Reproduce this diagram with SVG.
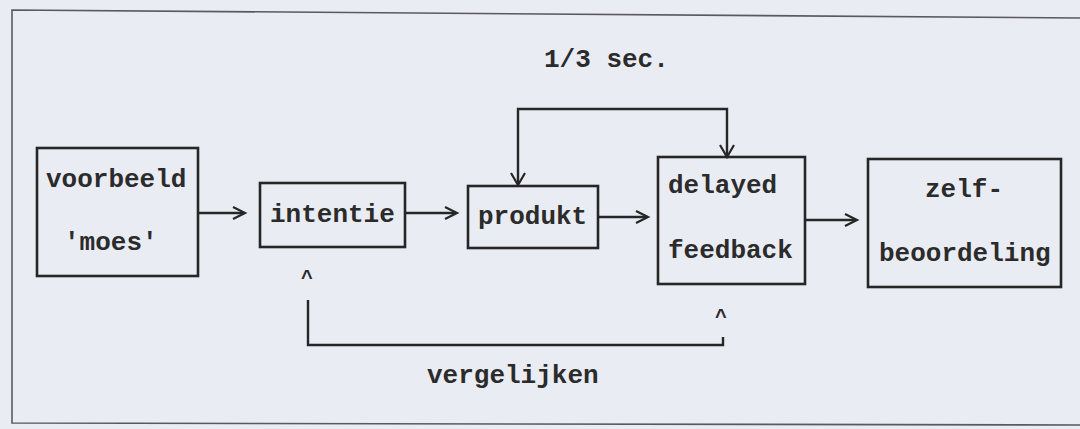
<svg xmlns="http://www.w3.org/2000/svg" width="1080" height="429" viewBox="0 0 1080 429">
  <defs>
    <style>
      .bg { fill: #eaecf3; }
      .frame { fill: none; stroke: #5a5a5e; stroke-width: 1.6; }
      .box { fill: none; stroke: #262626; stroke-width: 2.6; }
      .lbl { font-family: "Liberation Mono", "DejaVu Sans Mono", monospace; font-size: 26px; font-weight: bold; fill: #2b2b2b; }
      .caret { font-family: "Liberation Mono", "DejaVu Sans Mono", monospace; font-size: 20px; font-weight: bold; fill: #2b2b2b; text-anchor: middle; }
      .wire { fill: none; stroke: #262626; stroke-width: 2.4; }
      .head { fill: none; stroke: #262626; stroke-width: 2.2; stroke-linejoin: miter; }
    </style>
  </defs>
  <rect class="bg" x="0" y="0" width="1080" height="429"/>
  <polyline class="frame" points="1080,18 12,10 12,423 1080,425"/>

  <g id="connectors">
    <!-- horizontal flow arrows -->
    <line class="wire" x1="198" y1="213" x2="244" y2="213"/>
    <path class="head" d="M233,207 L245,213 L233,219"/>
    <line class="wire" x1="405" y1="213" x2="456" y2="213"/>
    <path class="head" d="M445,207 L457,213 L445,219"/>
    <line class="wire" x1="598" y1="217" x2="647" y2="217"/>
    <path class="head" d="M636,211 L648,217 L636,223"/>
    <line class="wire" x1="805" y1="220" x2="856" y2="220"/>
    <path class="head" d="M845,214 L857,220 L845,226"/>
    <!-- top loop (1/3 sec.) -->
    <path class="wire" d="M518,183 V109 H727 V155"/>
    <path class="head" d="M511,173 L518,185 L525,173"/>
    <path class="head" d="M720,145 L727,157 L734,145"/>
    <!-- bottom loop (vergelijken) -->
    <path class="wire" d="M308,300 V345 H723 V337"/>
  </g>

  <g id="node-voorbeeld">
    <rect class="box" x="37" y="148" width="161" height="128"/>
    <text class="lbl" x="46" y="187">voorbeeld</text>
    <text class="lbl" x="64" y="250">'moes'</text>
  </g>
  <g id="node-intentie">
    <rect class="box" x="260" y="183" width="145" height="64"/>
    <text class="lbl" x="270" y="222">intentie</text>
  </g>
  <g id="node-produkt">
    <rect class="box" x="468" y="186" width="130" height="62"/>
    <text class="lbl" x="478" y="224">produkt</text>
  </g>
  <g id="node-delayed-feedback">
    <rect class="box" x="658" y="157" width="147" height="127"/>
    <text class="lbl" x="668" y="193">delayed</text>
    <text class="lbl" x="668" y="258">feedback</text>
  </g>
  <g id="node-zelfbeoordeling">
    <rect class="box" x="868" y="159" width="193" height="128"/>
    <text class="lbl" x="925" y="197">zelf-</text>
    <text class="lbl" x="879" y="261">beoordeling</text>
  </g>

  <g id="labels">
    <text class="lbl" x="544" y="67">1/3 sec.</text>
    <text class="lbl" x="427" y="383">vergelijken</text>
    <text class="caret" x="307" y="284">^</text>
    <text class="caret" x="721" y="323">^</text>
  </g>
</svg>
